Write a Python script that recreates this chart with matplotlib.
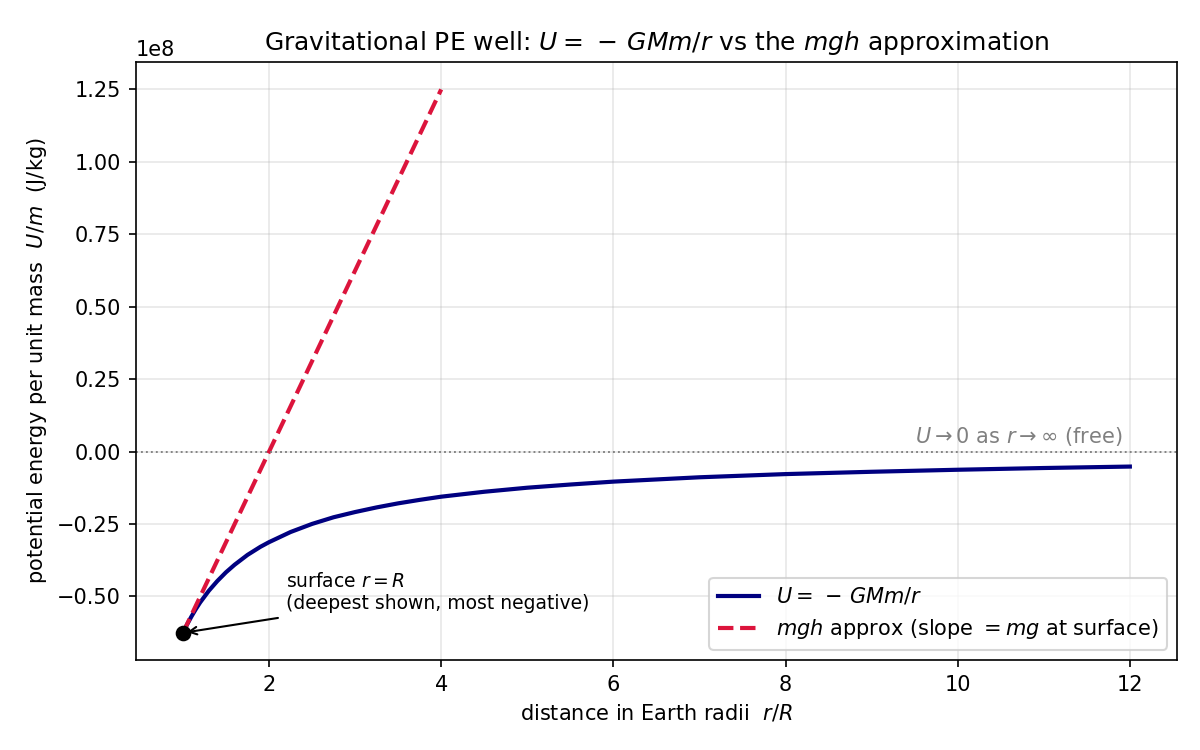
import matplotlib
matplotlib.use("Agg")
import matplotlib.pyplot as plt
import numpy as np

# distance in Earth radii and potential energy per unit mass (J/kg)
r_ratio = [1.0, 1.05, 1.1, 1.15, 1.2, 1.3, 1.4, 1.5, 1.6, 1.75, 1.9, 2.0, 2.25, 2.5,
           2.75, 3.0, 3.25, 3.5, 3.75, 4.0, 4.5, 5.0, 5.5, 6.0, 7.0, 8.0, 9.0, 10.0,
           11.0, 12.0]
U_per_m = [-0.626e8, -0.596e8, -0.569e8, -0.544e8, -0.521e8, -0.481e8, -0.447e8,
           -0.417e8, -0.391e8, -0.357e8, -0.329e8, -0.313e8, -0.278e8, -0.250e8,
           -0.227e8, -0.209e8, -0.193e8, -0.179e8, -0.167e8, -0.156e8, -0.139e8,
           -0.125e8, -0.114e8, -0.104e8, -0.089e8, -0.078e8, -0.070e8, -0.063e8,
           -0.057e8, -0.052e8]
# mgh straight-line approximation (endpoints)
mgh_r = [1.0, 4.0]
mgh_U = [-0.626e8, 1.25e8]
# surface point
surf_r = 1.0
surf_U = -0.626e8

fig, ax = plt.subplots(figsize=(8, 5), dpi=150)
fig.subplots_adjust(left=0.113, right=0.981, top=0.917, bottom=0.12)
ax.plot(r_ratio, U_per_m, color="navy", lw=2.0, label=r"$U=\,-\,GMm/r$")
ax.plot(mgh_r, mgh_U, color="crimson", lw=2.0, ls="--",
        label=r"$mgh$ approx (slope $=mg$ at surface)")
ax.axhline(0, color="gray", lw=0.9, ls=":")
ax.plot([surf_r], [surf_U], "o", color="black", ms=6.5, zorder=5)
ax.annotate("surface $r=R$\n(deepest shown, most negative)",
            xy=(surf_r, surf_U), xytext=(2.2, -0.545e8), fontsize=9,
            arrowprops=dict(arrowstyle="->", color="black", lw=1))
ax.text(9.5, 0.03e8, r"$U\to 0$ as $r\to\infty$ (free)", color="gray", fontsize=10)

ax.set_title(r"Gravitational PE well: $U=\,-\,GMm/r$ vs the $mgh$ approximation", fontsize=12)
ax.set_xlabel(r"distance in Earth radii  $r/R$")
ax.set_ylabel(r"potential energy per unit mass  $U/m$  (J/kg)")
ax.grid(True, alpha=0.3)
ax.legend(loc="lower right")
fig.savefig("out.png", dpi=150)
